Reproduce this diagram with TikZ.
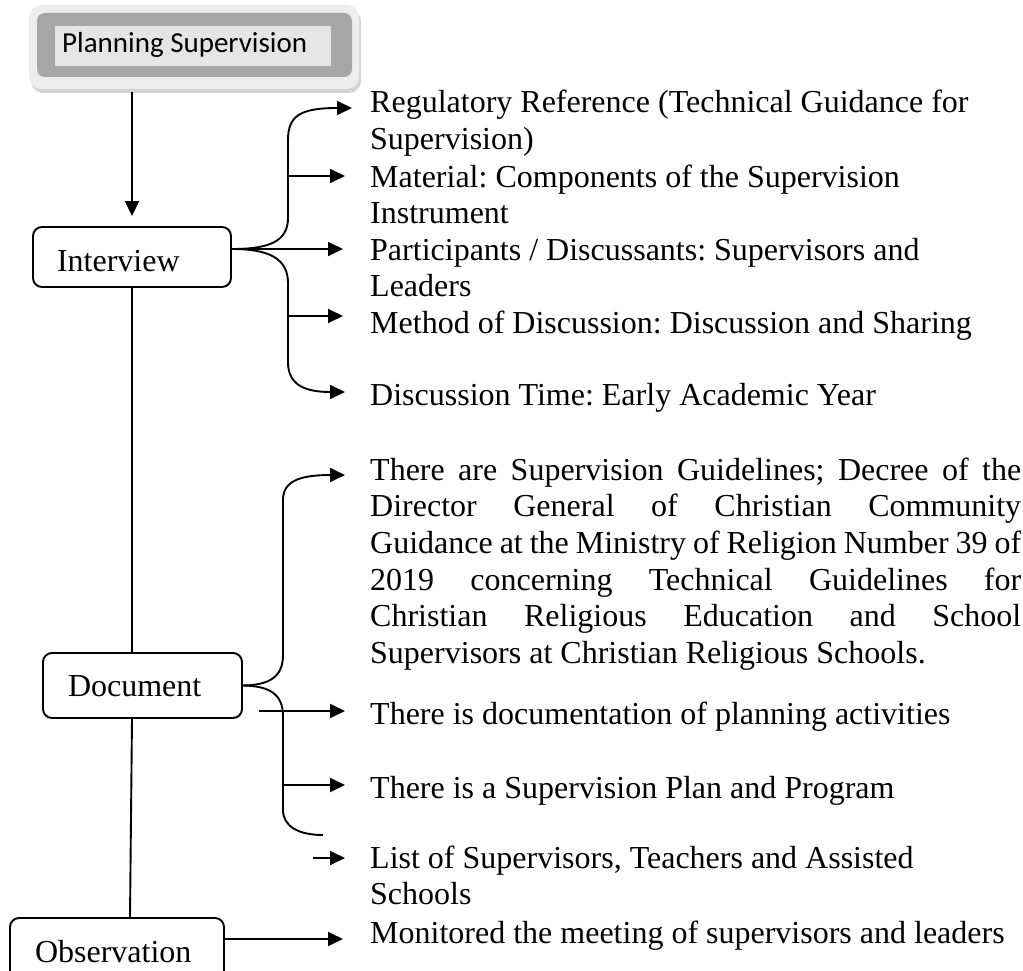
\documentclass[tikz,border=0pt]{standalone}
\usepackage{fontspec}
\setmainfont{Liberation Serif}
\newfontfamily\calfont{Carlito}
\usetikzlibrary{arrows.meta,calc}
\frenchspacing
\newcommand\mytxt[1]{\parbox[t]{700pt}{\fontsize{32}{36.7}\selectfont #1}}
\begin{document}
\begin{tikzpicture}[x=1pt,y=-1pt,
  line/.style={line width=1.9pt},
  arr/.style={line width=1.9pt,-{Triangle[length=15pt,width=14pt]}},
  box/.style={draw,line width=1.9pt,rounded corners=9pt,inner ysep=0pt,
    font=\fontsize{32}{36.7}\selectfont,align=left,text depth=0pt},
  item/.style={anchor=base west,inner sep=0pt}]
\useasboundingbox (0,0) rectangle (1023,971);
\clip (0,0) rectangle (1023,971);

% Planning Supervision decorated box
\fill[rounded corners=12pt,fill=black!17] (31,9) rectangle (361,93);
\fill[rounded corners=12pt,fill=black!7] (29,5) rectangle (359,89);
\fill[rounded corners=8pt,fill=black!35] (37,13) rectangle (352,77);
\fill[fill=black!10] (55,26) rectangle (331,66);
\node[minimum width=331pt,minimum height=87pt,inner sep=0pt,outer sep=0pt] (ps) at (194.5,48.5) {};
\node[item,font=\calfont\fontsize{29}{34}\selectfont] (pst) at (62,53) {Planning Supervision};

% Left boxes
\node[box,inner xsep=24pt,text width=150pt,minimum height=60pt,text height=28pt] (iv) at (132,257) {Interview};
\node[box,inner xsep=25pt,text width=149pt,minimum height=65pt,text height=21pt] (doc) at (142.5,685.5) {Document};
\node[box,inner xsep=25pt,text width=164pt,minimum height=66pt,text height=22pt] (obs) at (117,951) {Observation};

% Right texts
\node[item] (t1) at (370,113) {\mytxt{Regulatory Reference (Technical Guidance for\\Supervision)}};
\node[item] (t2) at (370,187) {\mytxt{Material: Components of the Supervision\\Instrument}};
\node[item] (t3) at (370,260) {\mytxt{Participants / Discussants: Supervisors and\\Leaders}};
\node[item] (t4) at (370,333) {\mytxt{Method of Discussion: Discussion and Sharing}};
\node[item] (t5) at (370,405) {\mytxt{Discussion Time: Early Academic Year}};
\node[item] (t6) at (370,480) {\parbox[t]{651pt}{\fontsize{32}{36.7}\selectfont
\makebox[651pt][s]{There are Supervision Guidelines; Decree of the}\\
\makebox[651pt][s]{Director General of Christian Community}\\
\makebox[651pt][s]{Guidance at the Ministry of Religion Number 39 of}\\
\makebox[651pt][s]{2019 concerning Technical Guidelines for}\\
\makebox[651pt][s]{Christian Religious Education and School}\\
Supervisors at Christian Religious Schools.}};
\node[item] (t7) at (370,724) {\mytxt{There is documentation of planning activities}};
\node[item] (t8) at (370,798) {\mytxt{There is a Supervision Plan and Program}};
\node[item] (t9) at (370,868) {\mytxt{List of Supervisors, Teachers and Assisted\\Schools}};
\node[item] (t10) at (370,943) {\mytxt{Monitored the meeting of supervisors and leaders}};

% arrow tips and helper coordinates
\coordinate (a1) at ($(t1.base west)+(-18,-5)$);
\coordinate (a2) at ($(t2.base west)+(-25,-11)$);
\coordinate (a3) at ($(t3.base west)+(-27,-11)$);
\coordinate (a4) at ($(t4.base west)+(-27,-17)$);
\coordinate (a5) at ($(t5.base west)+(-25,-13)$);
\coordinate (a6) at ($(t6.base west)+(-25,-5)$);
\coordinate (a7) at ($(t7.base west)+(-25,-13)$);
\coordinate (a8) at ($(t8.base west)+(-25,-13)$);
\coordinate (a9) at ($(t9.base west)+(-25,-10)$);
\coordinate (a10) at ($(t10.base west)+(-27,-4)$);
\coordinate (J1) at ($(iv.east)+(0,-8)$);
\coordinate (J2) at (doc.east);
\coordinate (trunk1) at (288,0);
\coordinate (trunk2) at (283,0);
\coordinate (s7) at (259,711);
\coordinate (s9) at (313,858);
\coordinate (e1) at (323,835);

% main vertical connectors
\draw[arr] (ps.south -| iv.north) -- ($(iv.north)+(0,-10)$);
\draw[line] (iv.south) -- (iv.south |- doc.north);
\draw[line] ($(doc.south)+(-10.5,0)$) -- ($(obs.north)+(13,0)$);

% Interview bracket
\draw[arr] (J1) .. controls (268,249) and (288,242) .. (288,218) -- (288,140) .. controls (288,116) and (300,108) .. (a1);
\draw[arr] (trunk1 |- a2) -- (a2);
\draw[arr] (J1) -- (a3);
\draw[arr] (trunk1 |- a4) -- (a4);
\draw[arr] (J1) .. controls (268,249) and (288,258) .. (288,283) -- (288,362) .. controls (288,385) and (305,392) .. (a5);

% Document bracket
\draw[arr] (J2) .. controls (268,685) and (283,678) .. (283,655) -- (283,500) .. controls (283,482) and (298,475) .. (a6);
\draw[line] (J2) .. controls (268,686) and (283,693) .. (283,716) -- (283,810) .. controls (283,826) and (298,835) .. (e1);
\draw[arr] (s7) -- (a7);
\draw[arr] (trunk2 |- a8) -- (a8);
\draw[arr] (s9) -- (a9);

% Observation
\draw[arr] (obs.east |- a10) -- (a10);
\end{tikzpicture}
\end{document}
